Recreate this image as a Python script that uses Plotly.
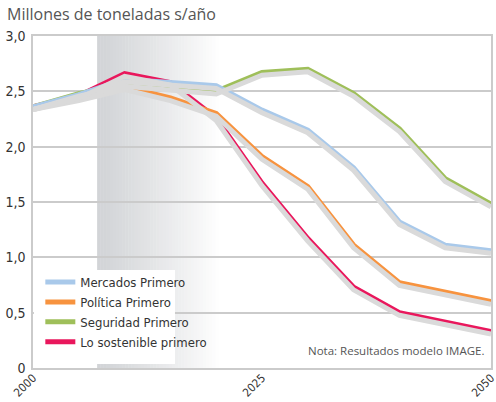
import plotly.graph_objects as go

# Años de la proyección (cada 5 años)
years = [2000, 2005, 2010, 2015, 2020, 2025, 2030, 2035, 2040, 2045, 2050]

# Emisiones por escenario, millones de toneladas s/año
mercados = [2.36, 2.47, 2.61, 2.58, 2.55, 2.33, 2.15, 1.81, 1.32, 1.11, 1.06]
politica = [2.36, 2.44, 2.54, 2.44, 2.30, 1.91, 1.64, 1.11, 0.77, 0.68, 0.60]
seguridad = [2.36, 2.48, 2.57, 2.53, 2.50, 2.67, 2.70, 2.48, 2.16, 1.71, 1.48]
sostenible = [2.36, 2.46, 2.66, 2.58, 2.26, 1.67, 1.17, 0.73, 0.50, 0.42, 0.33]

series_names = ["Mercados Primero", "Política Primero", "Seguridad Primero", "Lo sostenible primero"]
series_values = [mercados, politica, seguridad, sostenible]
series_colors = ["#a9c9ea", "#f7933f", "#9fbf5a", "#e9175c"]

y_ticks = [0, 0.5, 1.0, 1.5, 2.0, 2.5, 3.0]
y_tick_labels = ["0", "0,5", "1,0", "1,5", "2,0", "2,5", "3,0"]
x_ticks = [2000, 2025, 2050]

FONT = "Open Sans, DejaVu Sans, sans-serif"
NARROW = "DejaVu Sans Condensed, sans-serif"
GRID = "#cbcbcb"

# Orden de dibujo: la última serie queda debajo, la primera encima
draw_order = [3, 2, 1, 0]

fig = go.Figure()

# Sombra gris bajo cada línea (eje secundario desplazado hacia abajo)
for vals in series_values:
    fig.add_trace(go.Scatter(
        x=years, y=vals, mode="lines", yaxis="y2",
        line=dict(color="#dadada", width=5),
        showlegend=False, hoverinfo="skip",
    ))

for i in draw_order:
    fig.add_trace(go.Scatter(
        x=years, y=series_values[i], mode="lines", name=series_names[i],
        line=dict(color=series_colors[i], width=5), legendrank=i + 1,
    ))

# Franja sombreada con degradado de gris a blanco
x0, x1, n = 2007.0, 2020.6, 40
c0 = (210, 212, 215)
shapes = []
for i in range(n):
    t = i / (n - 1)
    r, g, b = (round(c + (255 - c) * t ** 1.15) for c in c0)
    xa = x0 + (x1 - x0) * i / n
    xb = x0 + (x1 - x0) * (i + 1) / n + 0.05
    shapes.append(dict(
        type="rect", xref="x", yref="paper", x0=xa, x1=xb, y0=0, y1=1,
        fillcolor=f"rgb({r},{g},{b})", line=dict(width=0), layer="below",
    ))

# Recuadro blanco de la leyenda
shapes.append(dict(
    type="rect", xref="paper", yref="paper", x0=0.002, x1=0.31, y0=0.012, y1=0.295,
    fillcolor="white", line=dict(width=0), layer="above",
))

fig.update_layout(
    width=496, height=402,
    margin=dict(l=33, r=5, t=36, b=34),
    paper_bgcolor="white", plot_bgcolor="white",
    font=dict(family=FONT, color="#333333"),
    shapes=shapes,
    title=dict(
        text="Millones de toneladas s/año", xref="container", yref="container",
        x=7 / 496, y=1 - 14 / 402, xanchor="left", yanchor="middle",
        font=dict(family=FONT, size=16, color="#555555"),
    ),
    xaxis=dict(
        range=[2000, 2050], tickvals=x_ticks, tickangle=-45,
        showgrid=False, zeroline=False, showline=True, mirror=True,
        linecolor=GRID, linewidth=1.5, ticks="", automargin=False,
        ticklabeloverflow="allow", ticklabelstandoff=-3,
        tickfont=dict(family=NARROW, size=11.5, color="#333333"),
    ),
    yaxis=dict(
        range=[0, 3.0], tickvals=y_ticks, ticktext=y_tick_labels,
        showgrid=True, gridcolor=GRID, gridwidth=1.5, zeroline=False,
        showline=True, mirror=True, linecolor=GRID, linewidth=1.5, ticks="",
        automargin=False,
        tickfont=dict(family=NARROW, size=14, color="#333333"), ticklabelstandoff=3,
    ),
    yaxis2=dict(
        range=[0.024, 3.024], overlaying="y", visible=False,
    ),
    legend=dict(
        x=0.016, y=0.304, xanchor="left", yanchor="top",
        bgcolor="rgba(0,0,0,0)", borderwidth=0,
        font=dict(family=NARROW, size=13, color="#333333"),
        itemwidth=30, tracegroupgap=0,
    ),
    annotations=[dict(
        text="Nota: Resultados modelo IMAGE.", xref="paper", yref="paper",
        x=0.99, y=0.025, xanchor="right", yanchor="bottom", showarrow=False,
        font=dict(family=FONT, size=11.5, color="#555555"),
    )],
)

fig.write_html("out.html")
